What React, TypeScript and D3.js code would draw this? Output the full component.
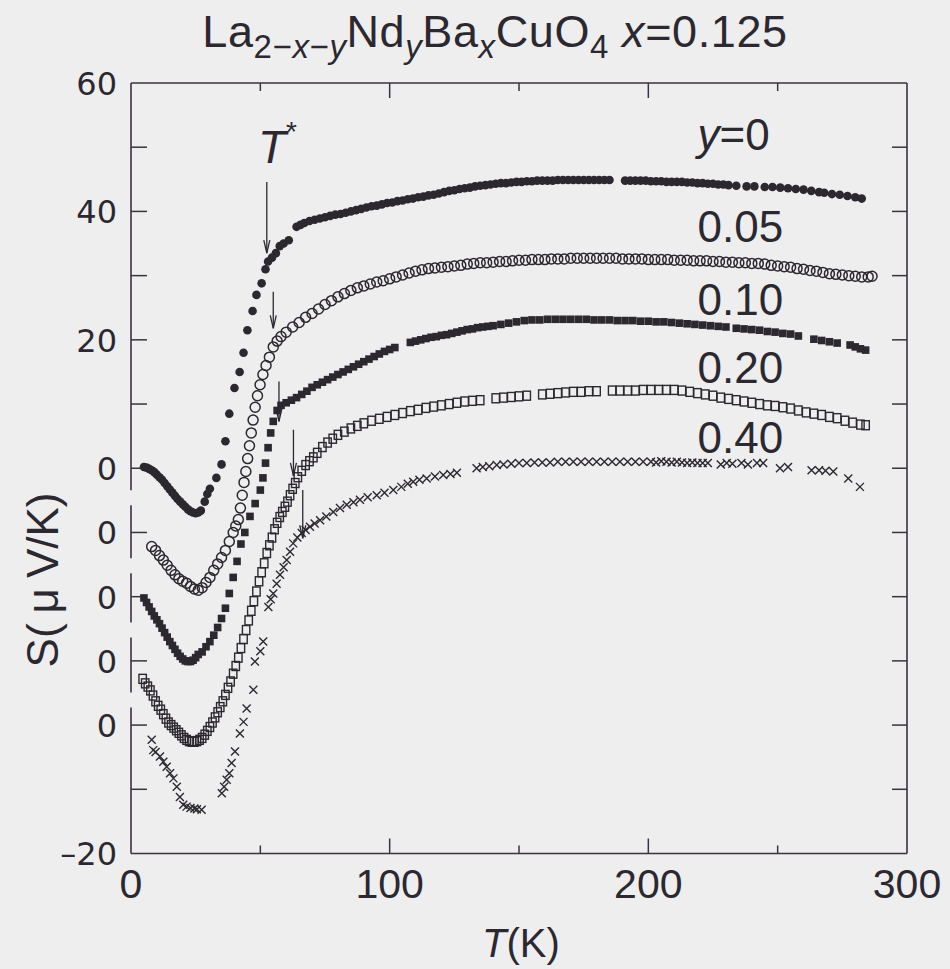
import React from 'react';
import * as d3 from 'd3';

type P = [number, number];

// ---------- data (T in K, S in µV/K, each curve offset on the stacked axis) ----------
const seriesNames = ['y=0', '0.05', '0.10', '0.20', '0.40'];
const seriesOffsets = [0, -10, -20, -30, -40];
const seriesMarkers = ['filledCircle', 'openCircle', 'filledSquare', 'openSquare', 'cross'];

const sY000: P[] = [[5,0.2],[6,0.1],[7,-0.1],[8,-0.3],[9,-0.6],[10,-1.0],[11,-1.4],[12,-1.8],[13,-2.3],[14,-2.8],[15,-3.3],[16,-3.8],[17,-4.3],[18,-4.8],[19,-5.2],[20,-5.6],[21,-6.0],[22,-6.4],[23,-6.7],[24,-6.9],[25,-7.0],[26,-6.9],[27,-6.6],[28.5,-5.2],[29.5,-4.0],[30.5,-3.2],[33,-1.5],[35,0.6],[36.5,4.2],[38,8.5],[40,12.5],[42,15.0],[43.5,18.0],[45,21.5],[47,24.5],[48.5,27.0],[50.5,28.8],[52,31.0],[53,32.2],[54.5,32.8],[56,33.5],[57.5,34.6],[59,35.0],[61,35.5],[64,37.6],[65.5,37.9],[67,38.2],[69,38.5],[71,38.7],[73,38.9],[75,39.1],[77,39.3],[79,39.5],[81,39.6],[83,39.8],[85,40.0],[87,40.2],[89,40.4],[91,40.6],[93,40.8],[95,40.9],[97,41.1],[99,41.3],[101,41.4],[103,41.6],[105,41.7],[107,41.9],[109,42.0],[111,42.2],[113,42.3],[115,42.5],[117,42.6],[119,42.8],[121,43.0],[123,43.2],[125,43.3],[127,43.5],[129,43.6],[131,43.7],[133,43.9],[135,44.0],[137,44.1],[139,44.2],[141,44.3],[143,44.4],[145,44.4],[147,44.5],[149,44.6],[151,44.6],[153,44.7],[155,44.7],[157,44.8],[159,44.8],[161,44.8],[163,44.8],[165,44.9],[167,44.9],[169,44.9],[171,44.9],[173,44.9],[175,44.9],[177,44.9],[179,44.9],[181,44.9],[183,44.9],[185,44.9],[191,44.8],[193,44.8],[195,44.8],[197,44.8],[199,44.8],[201,44.7],[203,44.7],[205,44.7],[207,44.6],[209,44.6],[211,44.6],[213,44.6],[215,44.5],[217,44.5],[219,44.4],[221,44.4],[223,44.3],[225,44.3],[227,44.2],[229,44.2],[231,44.1],[234,44.0],[238,43.9],[241,43.9],[245,43.8],[248,43.8],[251,43.7],[254,43.6],[257,43.5],[260,43.4],[263,43.2],[266,43.0],[268,42.9],[271,42.7],[274,42.6],[277,42.4],[280,42.2],[282.5,42.0]];

const sY005: P[] = [[8,-2.2],[9.5,-2.8],[11,-3.6],[12.5,-4.3],[14,-5.1],[15.5,-5.9],[17,-6.6],[18.5,-7.2],[20,-7.6],[21.5,-7.9],[23,-8.4],[24.5,-8.8],[26,-9.0],[27.5,-8.6],[29,-7.8],[30.5,-7.0],[32,-5.9],[33.5,-4.9],[35,-3.9],[36.5,-2.8],[38,-1.4],[39.5,0.0],[40.5,1.0],[41.5,2.0],[42.3,3.8],[43,5.8],[43.7,7.8],[44.4,9.5],[45.1,11.5],[45.8,13.5],[46.5,15.5],[47.2,17.5],[48,19.5],[48.9,21.3],[49.9,23.0],[51,24.6],[52.2,26.0],[53.5,27.3],[55,28.9],[56.5,29.8],[58,30.5],[60,31.2],[62.5,32.0],[65,32.7],[67.5,33.5],[70,34.1],[72.5,34.8],[75,35.5],[77.5,36.1],[80,36.7],[82.5,37.2],[85,37.7],[87.5,38.1],[90,38.4],[92.5,38.7],[95,39.0],[97.5,39.2],[100,39.5],[102.5,39.8],[105,40.1],[107.5,40.4],[110,40.7],[112.5,40.9],[115,41.1],[117.5,41.2],[120,41.3],[122.5,41.4],[125,41.5],[127.5,41.6],[130,41.8],[132.5,41.9],[135,42.0],[137.5,42.0],[140,42.1],[142.5,42.2],[145,42.2],[147.5,42.3],[150,42.4],[152.5,42.4],[155,42.5],[157.5,42.5],[160,42.5],[162.5,42.6],[165,42.6],[167.5,42.6],[170,42.7],[172.5,42.7],[175,42.7],[177.5,42.7],[180,42.7],[182.5,42.7],[185,42.7],[187.5,42.7],[190,42.6],[192.5,42.6],[195,42.6],[197.5,42.6],[200,42.5],[202.5,42.5],[205,42.5],[207.5,42.5],[210,42.4],[212.5,42.4],[215,42.4],[217.5,42.3],[220,42.3],[222.5,42.3],[225,42.2],[227.5,42.2],[230,42.1],[232.5,42.1],[235,42.0],[237.5,42.0],[240,41.9],[242.5,41.9],[245,41.8],[247.5,41.6],[250,41.5],[252.5,41.4],[255,41.3],[257.5,41.1],[260,41.0],[262.5,40.8],[265,40.7],[267.5,40.5],[270,40.3],[272.5,40.2],[275,40.1],[277.5,40.0],[280,39.9],[282.5,39.8],[285,39.8],[286.5,39.9]];

const sY010: P[] = [[5,-0.2],[6,-0.9],[7,-1.6],[8,-2.3],[9,-3.0],[10,-3.6],[11,-4.2],[12,-4.9],[13,-5.6],[14,-6.3],[15,-7.0],[16,-7.6],[17,-8.2],[18,-8.8],[19,-9.3],[20,-9.7],[21,-10.0],[22,-10.1],[23,-10.1],[24,-9.9],[25,-9.5],[26,-9.0],[27.5,-8.6],[29,-7.8],[30.5,-7.0],[32,-6.0],[33.5,-4.8],[35,-3.4],[36.5,-1.8],[38,0.5],[39.5,3.0],[41,5.5],[42.5,8.2],[44,10.0],[46,12.5],[48,14.5],[50,16.6],[51,18.5],[52,20.8],[53,23.2],[54,25.5],[55,27.3],[56.5,29.0],[58,29.8],[60,30.2],[62,30.6],[64,31.0],[66,31.5],[68,32.0],[70,32.6],[72,33.0],[74,33.4],[76,33.8],[78,34.2],[80,34.6],[82,35.0],[84,35.4],[86,35.8],[88,36.2],[90,36.6],[92,37.0],[94,37.4],[96,37.8],[98,38.2],[100,38.5],[102,38.8],[108,39.6],[110,39.8],[112,40.0],[114,40.2],[116,40.4],[118,40.5],[120,40.7],[122,40.8],[124,41.0],[126,41.2],[128,41.4],[130,41.6],[132,41.7],[134,41.9],[136,42.0],[138,42.1],[140,42.2],[143,42.4],[146,42.6],[149,42.8],[152,43.0],[155,43.1],[158,43.1],[161,43.2],[164,43.2],[167,43.2],[170,43.2],[173,43.2],[176,43.2],[179,43.1],[182,43.1],[185,43.1],[188,43.0],[191,43.0],[194,43.0],[197,42.9],[200,42.9],[203,42.8],[206,42.8],[209,42.7],[212,42.6],[215,42.5],[218,42.4],[221,42.3],[224,42.2],[227,42.1],[230,42.0],[234,41.8],[237,41.7],[240,41.6],[243,41.5],[246,41.3],[249,41.2],[252,41.0],[255,40.9],[258,40.6],[264,40.1],[267,39.9],[270,39.7],[273,39.5],[278,39.2],[280,38.9],[282,38.6],[284,38.4]];

const sY020: P[] = [[4.5,-2.8],[5.5,-3.5],[6.5,-4.0],[7.5,-4.6],[8.5,-5.4],[9.5,-6.3],[10.5,-7.0],[11.5,-7.6],[12.5,-8.3],[13.5,-9.0],[14.5,-9.6],[15.5,-10.0],[16.5,-10.4],[17.5,-10.8],[18.5,-11.2],[19.5,-11.6],[20.5,-12.0],[21.5,-12.3],[22.5,-12.5],[23.5,-12.6],[24.5,-12.6],[25.5,-12.5],[26.5,-12.3],[27.5,-12.0],[28.5,-11.5],[29.5,-10.9],[30.5,-10.3],[31.5,-9.6],[32.5,-8.8],[33.5,-8.0],[34.5,-7.2],[35.5,-6.3],[36.5,-5.3],[37.5,-4.2],[38.5,-3.2],[39.5,-2.0],[40.5,-0.8],[41.5,0.5],[42.5,2.0],[43.5,3.4],[44.5,4.8],[45.5,6.3],[46.5,7.8],[47.5,9.3],[48.5,10.8],[49.5,12.4],[50.5,13.8],[51.5,15.2],[52.5,16.8],[53.5,18.0],[54.5,19.2],[55.5,20.5],[56.5,21.5],[57.5,22.4],[58.5,23.2],[59.5,24.0],[60.5,24.8],[61.5,25.8],[62.5,26.8],[63.5,27.7],[64.5,28.6],[66,29.6],[67.5,30.5],[69,31.1],[70.5,31.7],[72,32.4],[74,33.3],[76,34.0],[78,34.6],[80,35.2],[82.5,35.7],[85,36.2],[87.5,36.6],[90,37.0],[93,37.4],[96,37.7],[99,38.0],[102,38.3],[105,38.6],[108,38.9],[111,39.1],[114,39.4],[117,39.6],[120,39.8],[123,40.0],[126,40.2],[129,40.4],[132,40.5],[135,40.6],[141,40.9],[144,41.0],[147,41.1],[150,41.2],[153,41.3],[159,41.5],[162,41.6],[165,41.7],[168,41.8],[171,41.9],[174,41.9],[177,42.0],[180,42.0],[186,42.1],[189,42.1],[192,42.1],[195,42.1],[198,42.2],[201,42.2],[204,42.2],[207,42.2],[210,42.2],[213,42.1],[216,41.9],[219,41.7],[222,41.5],[225,41.3],[228,41.0],[231,40.8],[234,40.6],[237,40.4],[240,40.2],[243,40.0],[246,39.8],[249,39.7],[252,39.5],[255,39.3],[258,39.0],[261,38.7],[264,38.5],[267,38.3],[270,38.0],[273,37.8],[276,37.4],[279,37.1],[282,36.8],[284,36.7]];

const sY040: P[] = [[8,-2.3],[8.6,-3.9],[9.5,-4.2],[11.2,-4.9],[12.5,-5.7],[13.8,-6.5],[15.1,-7.5],[16.4,-8.3],[17.7,-9.6],[18.9,-11.2],[20.2,-12.4],[21.5,-12.7],[23,-12.9],[24.5,-13.0],[25.5,-13.1],[27.3,-13.2],[35.1,-10.6],[36,-9.6],[37,-8.5],[38,-7.5],[38.9,-5.9],[40.2,-4.1],[42.1,-1.3],[43.5,0.5],[44.7,2.6],[47.3,5.5],[47.9,9.9],[50,11.5],[51.1,13.0],[53.1,18.4],[54,19.6],[55,20.5],[56.3,22.0],[57.6,23.4],[59,24.6],[60.2,25.7],[61.5,27.0],[62.7,28.3],[64.3,29.2],[66,29.9],[67.5,30.4],[69.2,30.9],[71,31.4],[73.1,31.9],[75.5,32.5],[78.2,33.2],[80.8,33.8],[83.4,34.3],[86,34.7],[88.5,35.1],[91.5,35.5],[95,35.8],[98,36.2],[101.4,36.6],[104.5,37.1],[107,37.6],[109.1,37.9],[111.5,38.2],[114.3,38.4],[117.5,38.7],[120.7,38.95],[123.5,39.1],[126,39.3],[133.6,40.0],[136,40.2],[138.5,40.3],[141.4,40.5],[144,40.6],[147,40.7],[150,40.8],[153,40.8],[156,40.9],[159,40.9],[162,40.9],[165,41.0],[168,41.0],[171,41.0],[174,41.0],[177,41.0],[180,41.0],[183,41.0],[186,41.0],[189,41.0],[192,41.0],[195,41.0],[198,41.0],[201,41.0],[203,40.9],[205,41.1],[207,41.0],[209,40.9],[211,41.0],[213,40.9],[215,40.8],[217,40.9],[219,40.8],[221,40.8],[223,40.8],[228,40.6],[230.3,40.8],[232.5,40.7],[236,40.8],[238.5,40.6],[242,40.8],[244.4,40.8],[250.9,40.0],[254,40.2],[263.1,39.7],[266,39.7],[268.5,39.6],[271.5,39.5],[277.3,38.4],[281.8,37.1]];

const seriesData: P[][] = [sY000, sY005, sY010, sY020, sY040];

// T* arrows (one per curve): temperature, top and tip of the arrow in S units of that curve
const tStarT = [52.5, 55.0, 57.2, 62.8, 66.4];
const arrowTopS = [44.6, 37.5, 33.5, 36.0, 36.6];
const arrowTipS = [33.5, 31.8, 27.3, 28.8, 29.1];

// curve-label anchors (T, S of the curve)
const labelT = [219, 219, 219, 219, 219];
const labelS = [49.6, 45.2, 43.9, 43.3, 42.4];

// stacked axis ticks
const yTickValues = [60, 50, 40, 30, 20, 10, 0, -10, -20, -30, -40, -50, -60];
const yTickLabels = ['60', '', '40', '', '20', '', '0', '0', '0', '0', '0', '', '\u201320'];
const yAxisBreaks = [-4.6, -15.2, -25.2, -36.1];
const xMajorTicks = [0, 100, 200, 300];
const xMinorTicks = [50, 150, 250];

// ---------- layout ----------
const W = 950, H = 969;
const INK = '#2c2830';
const AXIS = '#3d3040';
const BG = '#eeeeef';
const FONT = "'Liberation Sans', Arial, Helvetica, sans-serif";
const TICKFONT = "'DejaVu Sans', Verdana, sans-serif";

const x = d3.scaleLinear().domain([0, 300]).range([131, 907]);
const y = d3.scaleLinear().domain([-60, 60]).range([853.5, 83]);

function Marker({ kind, cx, cy }: { kind: string; cx: number; cy: number }) {
  switch (kind) {
    case 'filledCircle':
      return <circle cx={cx} cy={cy} r={4.3} fill={INK} />;
    case 'openCircle':
      return <circle cx={cx} cy={cy} r={5} fill="none" stroke={INK} strokeWidth={1.5} />;
    case 'filledSquare':
      return <rect x={cx - 3.8} y={cy - 3.8} width={7.6} height={7.6} fill={INK} />;
    case 'openSquare':
      return <rect x={cx - 3.7} y={cy - 4.5} width={7.4} height={9} fill="none" stroke={INK} strokeWidth={1.4} />;
    default:
      return (
        <path d={`M${cx - 4},${cy - 4}L${cx + 4},${cy + 4}M${cx - 4},${cy + 4}L${cx + 4},${cy - 4}`} stroke={INK} strokeWidth={1.4} />
      );
  }
}

export default function App() {
  const [x0, x1] = x.range();
  const yTop = y(60), yBot = y(-60);

  // left axis segments with breaks
  const breakHalf = 7.5;
  const breakYs = yAxisBreaks.map((b) => y(b)).sort((a, b) => a - b);
  const segs: [number, number][] = [];
  let start = yTop;
  breakYs.forEach((by) => { segs.push([start, by - breakHalf]); start = by + breakHalf; });
  segs.push([start, yBot]);

  return (
    <svg width={W} height={H} style={{ position: 'absolute', left: 0, top: 0, background: BG }} fontFamily={FONT}>
      <rect x={0} y={0} width={W} height={H} fill={BG} />

      {/* title */}
      <text x={495} y={47} textAnchor="middle" fontSize={45} letterSpacing={0.6} fill={INK}>
        <tspan>La</tspan>
        <tspan dy={11} fontSize={33}>2−<tspan fontStyle="italic">x</tspan>−<tspan fontStyle="italic">y</tspan></tspan>
        <tspan dy={-11}>Nd</tspan>
        <tspan dy={11} fontSize={33} fontStyle="italic">y</tspan>
        <tspan dy={-11}>Ba</tspan>
        <tspan dy={11} fontSize={33} fontStyle="italic">x</tspan>
        <tspan dy={-11}>CuO</tspan>
        <tspan dy={11} fontSize={33}>4</tspan>
        <tspan dy={-11}> </tspan>
        <tspan fontStyle="italic">x</tspan>
        <tspan>=0.125</tspan>
      </text>

      {/* frame */}
      <line x1={x0} y1={yTop} x2={x1} y2={yTop} stroke={AXIS} strokeWidth={1.6} />
      <line x1={x0} y1={yBot} x2={x1} y2={yBot} stroke={AXIS} strokeWidth={1.6} />
      <line x1={x1} y1={yTop} x2={x1} y2={yBot} stroke={AXIS} strokeWidth={1.6} />
      {segs.map(([a, b], i) => (
        <line key={'seg' + i} x1={x0} y1={a} x2={x0} y2={b} stroke={AXIS} strokeWidth={1.6} />
      ))}

      {/* y ticks */}
      {yTickValues.map((v, i) => (
        <g key={'yt' + i}>
          {v !== 60 && v !== -60 && (
            <>
              <line x1={x0} y1={y(v)} x2={x0 + 16} y2={y(v)} stroke={AXIS} strokeWidth={1.5} />
              <line x1={x1} y1={y(v)} x2={x1 - 15} y2={y(v)} stroke={AXIS} strokeWidth={1.5} />
            </>
          )}
          {yTickLabels[i] && (
            <text x={117} y={y(v)} dy="0.37em" textAnchor="end" fontSize={32} fontFamily={TICKFONT} fill={INK}>
              {yTickLabels[i]}
            </text>
          )}
        </g>
      ))}

      {/* x ticks */}
      {xMajorTicks.filter((t) => t > 0 && t < 300).map((t) => (
        <g key={'xM' + t}>
          <line x1={x(t)} y1={yBot} x2={x(t)} y2={yBot - 15} stroke={AXIS} strokeWidth={1.5} />
          <line x1={x(t)} y1={yTop} x2={x(t)} y2={yTop + 15} stroke={AXIS} strokeWidth={1.5} />
        </g>
      ))}
      {xMinorTicks.map((t) => (
        <g key={'xm' + t}>
          <line x1={x(t)} y1={yBot} x2={x(t)} y2={yBot - 8} stroke={AXIS} strokeWidth={1.5} />
          <line x1={x(t)} y1={yTop} x2={x(t)} y2={yTop + 8} stroke={AXIS} strokeWidth={1.5} />
        </g>
      ))}
      {xMajorTicks.map((t) => (
        <text key={'xl' + t} x={x(t)} y={898} textAnchor="middle" fontSize={41} fill={INK}>
          {String(t)}
        </text>
      ))}

      {/* axis titles */}
      <text x={521} y={957} textAnchor="middle" fontSize={40} fill={INK}>
        <tspan fontStyle="italic">T</tspan>(K)
      </text>
      <text transform="translate(58,580) rotate(-90)" textAnchor="middle" fontSize={44} fill={INK}>
        S(<tspan dx={10}>μ</tspan><tspan dx={10}>V/K)</tspan>
      </text>

      {/* data */}
      {seriesData.map((data, si) => (
        <g key={'s' + si}>
          {data.map(([t, s], pi) => (
            <Marker key={pi} kind={seriesMarkers[si]} cx={x(t)} cy={y(s + seriesOffsets[si])} />
          ))}
        </g>
      ))}

      {/* T* arrows */}
      {tStarT.map((t, i) => {
        const ax = x(t);
        const ya = y(arrowTopS[i] + seriesOffsets[i]);
        const yb = y(arrowTipS[i] + seriesOffsets[i]);
        return (
          <g key={'ar' + i} stroke={INK} strokeWidth={1.3} fill="none">
            <line x1={ax} y1={ya} x2={ax} y2={yb} />
            <path d={`M${ax - 3},${yb - 13}L${ax},${yb}L${ax + 3},${yb - 13}`} />
          </g>
        );
      })}
      <text x={258} y={163} fontSize={46} fill={INK}>
        <tspan fontStyle="italic">T</tspan>
        <tspan dy={-22} fontSize={28}>*</tspan>
      </text>

      {/* curve labels */}
      {seriesNames.map((name, i) => (
        <text key={'lab' + i} x={x(labelT[i])} y={y(labelS[i] + seriesOffsets[i])} fontSize={44} fill={INK}>
          {name.startsWith('y=') ? (
            <>
              <tspan fontStyle="italic">y</tspan>
              {name.slice(1)}
            </>
          ) : (
            name
          )}
        </text>
      ))}
    </svg>
  );
}
